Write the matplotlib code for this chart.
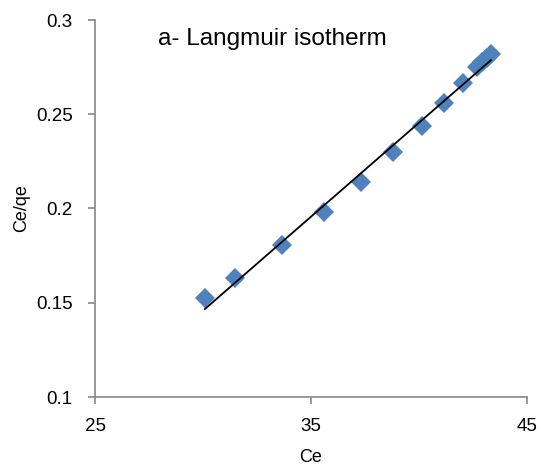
import matplotlib
matplotlib.use("Agg")
import matplotlib.pyplot as plt
import numpy as np

plt.rcParams['font.family'] = ['Liberation Sans', 'DejaVu Sans']

ce = [30.09, 31.48, 33.64, 35.60, 37.30, 38.81, 40.13, 41.16, 42.02, 42.69, 42.92, 43.15, 43.33]
ce_qe = [0.1524, 0.1633, 0.1806, 0.1983, 0.2142, 0.2298, 0.2438, 0.2561, 0.2664, 0.2751, 0.2777, 0.2798, 0.2820]
fit_slope = 0.00997
fit_intercept = -0.1533
x_ticks = [25, 35, 45]
y_ticks = [0.1, 0.15, 0.2, 0.25, 0.3]
y_tick_labels = ['0.1', '0.15', '0.2', '0.25', '0.3']

fig = plt.figure(figsize=(5.41, 4.65), dpi=100)
ax = fig.add_axes([95/541, 68/465, 432/541, 377/465])

ax.plot(ce, ce_qe, linestyle='none', marker='D', markersize=10, color='#4F81BD', markeredgewidth=0, zorder=2)
xf = np.array([min(ce), max(ce)])
ax.plot(xf, fit_slope * xf + fit_intercept, color='black', linewidth=1.3, zorder=3)

ax.set_xlim(25, 45)
ax.set_ylim(0.1, 0.3)
ax.set_xticks(x_ticks)
ax.set_xticklabels([str(t) for t in x_ticks])
ax.set_yticks(y_ticks)
ax.set_yticklabels(y_tick_labels)

for s in ['top', 'right']:
    ax.spines[s].set_visible(False)
for s in ['left', 'bottom']:
    ax.spines[s].set_color('#868686')
    ax.spines[s].set_linewidth(1.2)
ax.tick_params(direction='out', length=5, width=1.2, color='#868686', labelsize=13.5, labelcolor='black')
ax.tick_params(axis='x', pad=10)
ax.tick_params(axis='y', pad=11)

ax.set_xlabel('Ce', fontsize=13, labelpad=10.5)
ax.set_ylabel('Ce/qe', fontsize=13, labelpad=4)
ax.text(0.146, 0.95, 'a- Langmuir isotherm', transform=ax.transAxes, fontsize=17.5, va='center', ha='left')

fig.savefig('out.png', dpi=100)
